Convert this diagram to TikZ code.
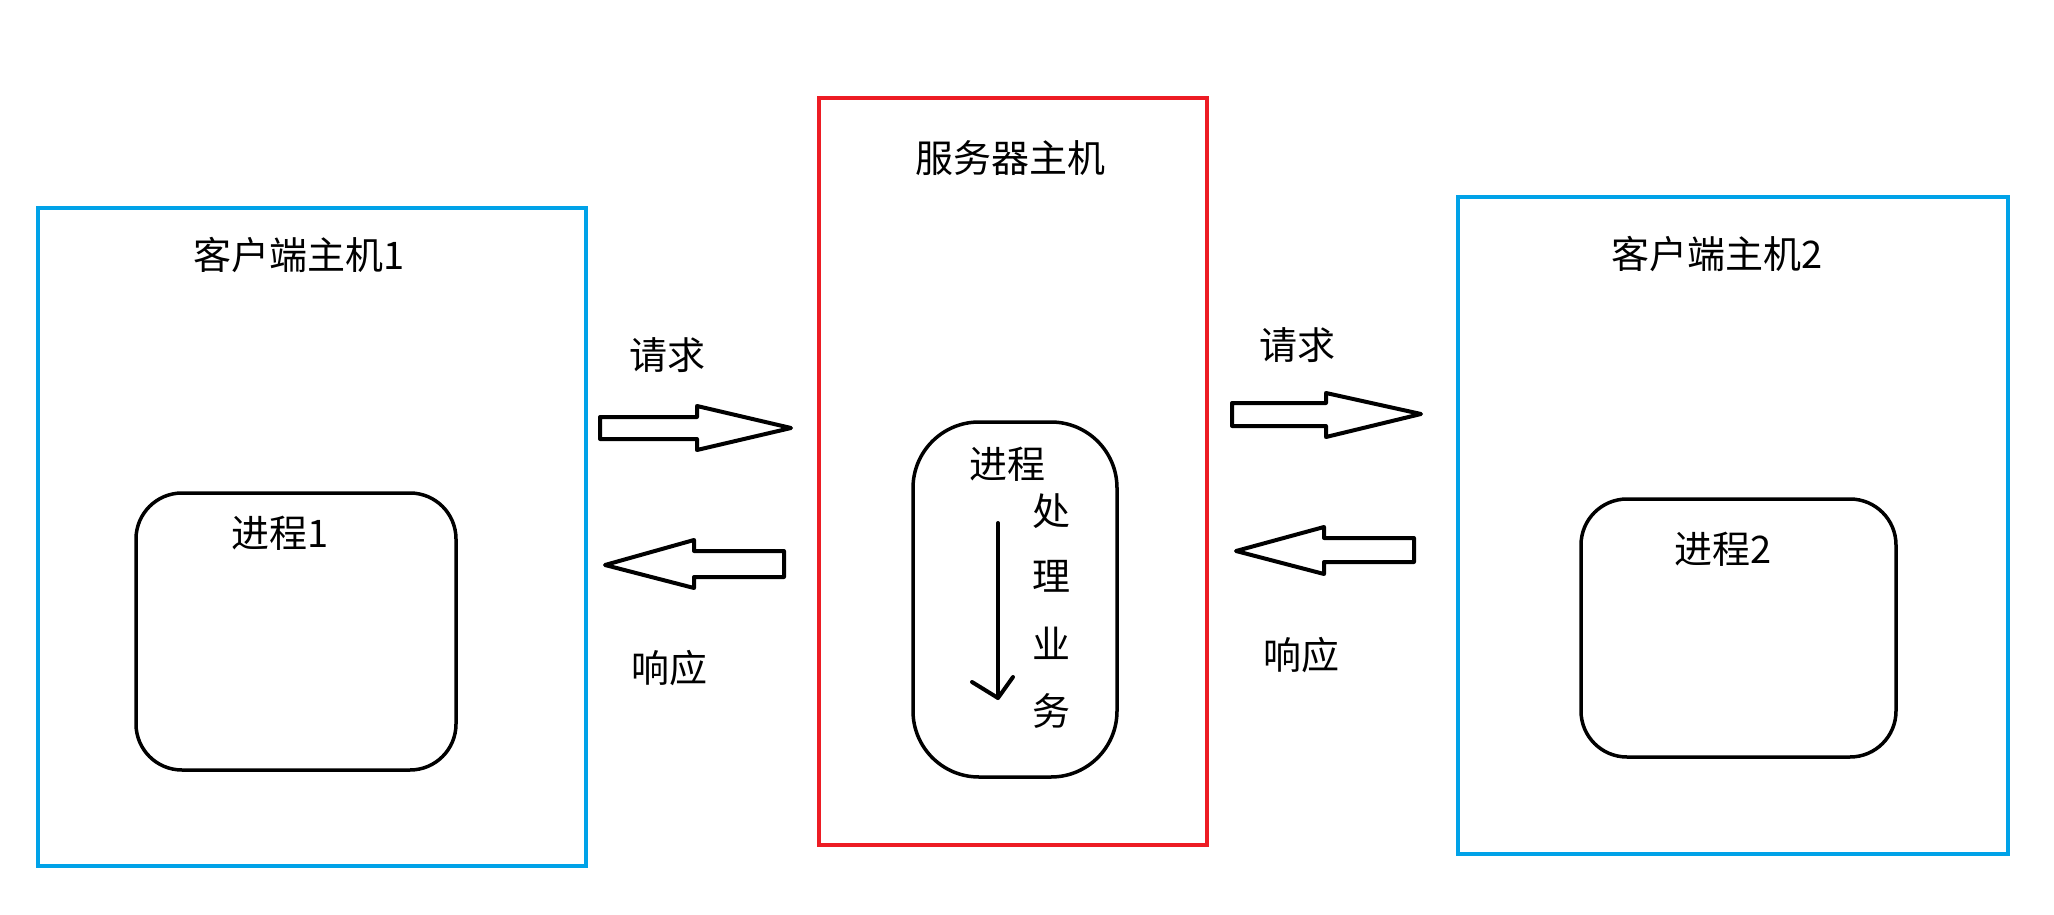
\documentclass[tikz,border=0pt]{standalone}
\usepackage{fontspec}
\newfontfamily\cjk{Noto Sans CJK SC}
\begin{document}
\begin{tikzpicture}[x=1pt,y=-1pt]

% Define colors
\definecolor{hostblue}{RGB}{0,162,232}
\definecolor{serverred}{RGB}{237,28,36}

\tikzset{
  label/.style={font=\cjk\fontsize{38}{42}\selectfont, inner sep=0pt},
  blockarrow/.style={draw=black, line width=4pt, fill=white, line join=round}
}

% Fix the margins
\useasboundingbox (0,0) rectangle (2054,915);

% Draw the hosts
\draw[hostblue, line width=3.5pt] (38,208) rectangle (586,866);
\draw[serverred, line width=3.5pt] (819,98) rectangle (1207,845);
\draw[hostblue, line width=3.5pt] (1458,197) rectangle (2008,854);

\node[label] (client1) at (299,255) {客户端主机1};
\node[label] (server) at (1010,158) {服务器主机};
\node[label] (client2) at (1717,254) {客户端主机2};

% Draw the processes
\draw[line width=3.5pt, rounded corners=46] (136,493) rectangle (456,770);
\draw[line width=3.5pt, rounded corners=66] (913,422) rectangle (1117,777);
\draw[line width=3.5pt, rounded corners=46] (1581,499) rectangle (1896,757);

\node[label] (proc1) at (280,533) {进程1};
\node[label] (proc) at (1007,464) {进程};
\node[label] (proc2) at (1723,549) {进程2};

% Work steps inside the server process
\node[label] (step1) at (1051,511) {处};
\node[label] (step2) at (1051,576) {理};
\node[label] (step3) at (1051,643) {业};
\node[label] (step4) at (1051,711) {务};

\coordinate (flowtop) at (998,523);
\coordinate (flowbot) at (998,698);
\draw[line width=4pt, line cap=round] (flowtop) -- (flowbot);
\draw[line width=4pt, line cap=round, line join=round]
  (972,682) -- (flowbot) -- (1013,677);

% Draw the block arrows
\draw[blockarrow] (600,417) -- (697,417) -- (697,406) -- (791,428)
  -- (697,450) -- (697,439) -- (600,439) -- cycle;
\draw[blockarrow] (784,551) -- (694,551) -- (694,540) -- (605,565)
  -- (694,588) -- (694,577) -- (784,577) -- cycle;
\draw[blockarrow] (1232,403) -- (1326,403) -- (1326,393) -- (1421,414)
  -- (1326,437) -- (1326,426) -- (1232,426) -- cycle;
\draw[blockarrow] (1414,538) -- (1324,538) -- (1324,527) -- (1236,551)
  -- (1324,574) -- (1324,562) -- (1414,562) -- cycle;

\node[label] (req1) at (667,355) {请求};
\node[label] (resp1) at (669,668) {响应};
\node[label] (req2) at (1297,345) {请求};
\node[label] (resp2) at (1301,655) {响应};

\end{tikzpicture}
\end{document}
